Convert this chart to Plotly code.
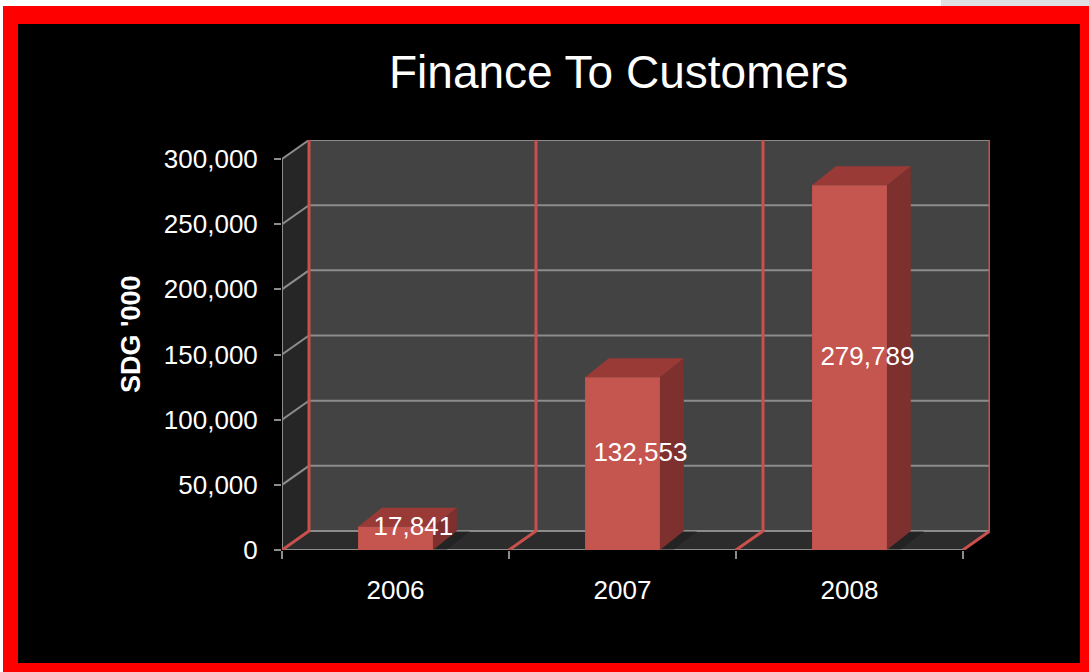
import plotly.graph_objects as go

# ---- data ----
years = ["2006", "2007", "2008"]
finance = [17841, 132553, 279789]
y_ticks = [0, 50000, 100000, 150000, 200000, 250000, 300000]
chart_title = "Finance To Customers"
y_title = "SDG '000"

# ---- page geometry ----
W, H = 1089, 672
L, R, T, B = 282, 99, 140, 122
PW, PH = W - L - R, H - T - B

FONT = "Liberation Sans, Arial, sans-serif"
BAR_FRONT = "#C4554F"
BAR_SIDE = "#7E302E"
BAR_TOP = "#9A3A37"
WALL_BACK = "#434343"
WALL_SIDE = "#262626"
FLOOR = "#2c2c2c"
GRID = "#8c8c8c"
EDGE_RED = "#C9504B"

y_max = y_ticks[-1]
# depth of the 3-D box in axis units (x: categories, y: value units)
wall_dx = 0.119
wall_dy = y_max * 19 / 391
bar_w = 0.33
bar_dx = 0.105
bar_dy = wall_dy

x_lo = -0.5
x_hi = len(years) - 0.5
bounds = [i - 0.5 for i in range(len(years) + 1)]


def back(x, y):
    return x + wall_dx, y + wall_dy


def px_x(px):
    return (px - L) / PW


def px_y(py):
    return (H - B - py) / PH


fig = go.Figure()


def poly(xs, ys, color, opacity=1.0):
    fig.add_trace(go.Scatter(
        x=list(xs) + [xs[0]], y=list(ys) + [ys[0]], mode="lines",
        fill="toself", fillcolor=color, line=dict(width=0, color=color),
        opacity=opacity, hoverinfo="skip", showlegend=False))


def path(xs, ys, color, width):
    fig.add_trace(go.Scatter(
        x=xs, y=ys, mode="lines", line=dict(color=color, width=width),
        hoverinfo="skip", showlegend=False))


# walls and floor
bx0, by0 = back(x_lo, 0)
bx1, by1 = back(x_hi, y_max)
poly([bx0, bx1, bx1, bx0], [by0, by0, by1, by1], WALL_BACK)
poly([x_lo, x_lo, bx0, bx0], [0, y_max, by1, by0], WALL_SIDE)
poly([x_lo, x_hi, bx1, bx0], [0, 0, by0, by0], FLOOR)

# gridlines running across the side wall and the back wall
for t in y_ticks:
    ax, ay = back(x_lo, t)
    bx, _ = back(x_hi, t)
    path([x_lo, ax, bx], [t, ay, ay], GRID, 2)

# front axis line and floor edge
path([x_lo, x_lo], [0, y_max], GRID, 2)
path([x_lo, x_hi], [0, 0], GRID, 2)

# red category dividers on the floor and back wall
for b in bounds:
    ax, ay = back(b, 0)
    _, ty = back(b, y_max)
    path([b, ax, ax], [0, ay, ty], EDGE_RED, 3)

# 3-D bars
for i, v in enumerate(finance):
    x0 = i - bar_w / 2
    x1 = i + bar_w / 2
    # soft shadow on the floor
    poly([x1, x1 + bar_dx, x1 + bar_dx + 0.06, x1 + 0.06],
         [0, bar_dy, bar_dy, 0], "#151515", 0.35)
    # side face
    poly([x1, x1 + bar_dx, x1 + bar_dx, x1],
         [0, bar_dy, v + bar_dy, v], BAR_SIDE)
    # top face
    poly([x0, x0 + bar_dx, x1 + bar_dx, x1],
         [v, v + bar_dy, v + bar_dy, v], BAR_TOP)
    # front face
    poly([x0, x1, x1, x0], [0, 0, v, v], BAR_FRONT)

# value labels at the centre of each box
fig.add_trace(go.Scatter(
    x=[i + bar_dx * 0.75 for i in range(len(years))],
    y=[v / 2 + bar_dy / 2 for v in finance],
    mode="text", text=[f"{v:,}" for v in finance],
    textposition="middle center",
    textfont=dict(family=FONT, size=26, color="white"),
    hoverinfo="skip", showlegend=False))

# frame: white page, red border, black panel
shapes = [
    dict(type="rect", xref="paper", yref="paper", layer="below",
         x0=px_x(3), x1=px_x(W), y0=px_y(6), y1=px_y(H),
         fillcolor="#FF0000", line=dict(width=0)),
    dict(type="rect", xref="paper", yref="paper", layer="below",
         x0=px_x(941), x1=px_x(W), y0=px_y(0), y1=px_y(6),
         fillcolor="#E1E1E1", line=dict(width=0)),
    dict(type="rect", xref="paper", yref="paper", layer="below",
         x0=px_x(18), x1=px_x(1080), y0=px_y(24), y1=px_y(663),
         fillcolor="#000000", line=dict(width=0)),
]

annotations = [
    dict(text=chart_title, xref="paper", yref="paper",
         x=px_x(618), y=px_y(72), xanchor="center", yanchor="middle",
         showarrow=False, font=dict(family=FONT, size=46, color="white")),
    dict(text=f"<b>{y_title}</b>", xref="paper", yref="paper",
         x=px_x(131), y=px_y(335), xanchor="center", yanchor="middle",
         textangle=-90, showarrow=False,
         font=dict(family=FONT, size=27, color="white")),
]

fig.update_layout(
    template="none",
    width=W, height=H,
    margin=dict(l=L, r=R, t=T, b=B, pad=0),
    paper_bgcolor="white",
    plot_bgcolor="rgba(0,0,0,0)",
    shapes=shapes,
    annotations=annotations,
    showlegend=False,
    xaxis=dict(
        range=[x_lo, x_hi + wall_dx], automargin=False,
        tickmode="array", tickvals=list(range(len(years))), ticktext=years,
        ticks="", showgrid=False, zeroline=False, showline=False,
        tickfont=dict(family=FONT, size=26, color="white"),
        ticklabelstandoff=22,
        minor=dict(tickmode="array", tickvals=bounds, ticks="outside",
                   ticklen=8, tickwidth=2, tickcolor=GRID, showgrid=False),
    ),
    yaxis=dict(
        range=[0, y_max + wall_dy], automargin=False,
        tickmode="array", tickvals=y_ticks, tickformat=",",
        ticks="outside", ticklen=7, tickwidth=2, tickcolor=GRID,
        showgrid=False, zeroline=False, showline=False,
        tickfont=dict(family=FONT, size=26, color="white"),
        ticklabelstandoff=11,
    ),
)

fig.write_html("out.html")
